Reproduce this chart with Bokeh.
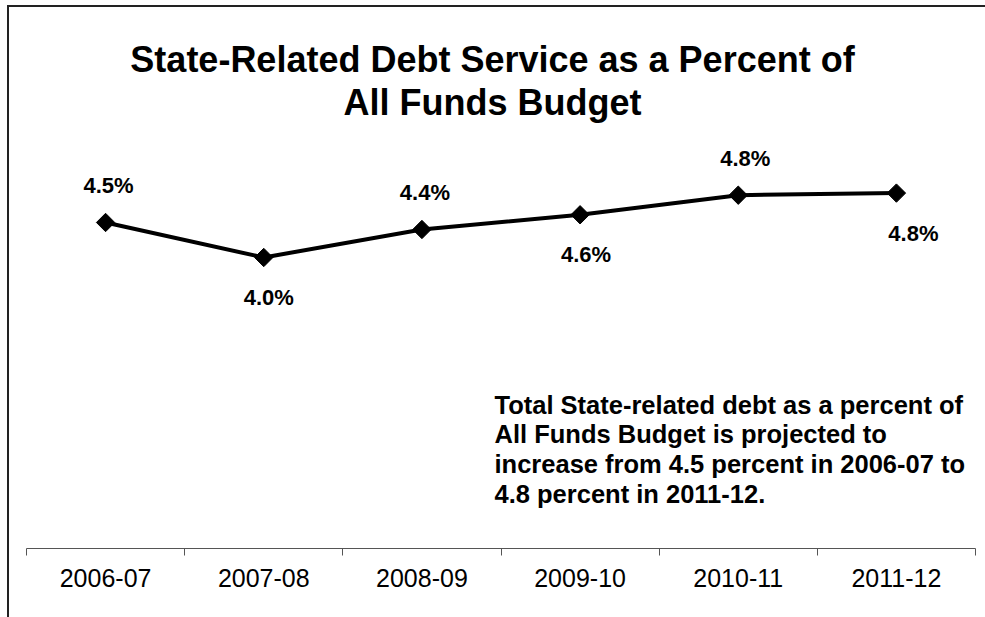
from math import pi
from bokeh.plotting import figure
from bokeh.models import (Range1d, LinearAxis, FixedTicker, CustomJSTickFormatter,
                          Label, InlineStyleSheet)
from bokeh.core.properties import value
from bokeh.embed import file_html
from bokeh.resources import INLINE

# ---- data ----
years = ["2006-07", "2007-08", "2008-09", "2009-10", "2010-11", "2011-12"]
debt_pct = [4.50, 4.00, 4.40, 4.61, 4.89, 4.92]
pct_labels = ["4.5%", "4.0%", "4.4%", "4.6%", "4.8%", "4.8%"]
label_side = ["above", "below", "above", "below", "above", "below"]
title_lines = ["State-Related Debt Service as a Percent of", "All Funds Budget"]
note_lines = [
    "Total State-related debt as a percent of",
    "All Funds Budget is projected to",
    "increase from 4.5 percent in 2006-07 to",
    "4.8 percent in 2011-12.",
]

# ---- layout (pixels) ----
W, H = 985, 617
FL, FR, FT, FB = 26, 975, 0, 548
Y_TOP, Y_BOT = 7.671, -0.157
FONT = "Liberation Sans"


def sx(px):
    return (px - FL) / (FR - FL) * len(years)


def sy(py):
    return Y_TOP - (py - FT) / (FB - FT) * (Y_TOP - Y_BOT)


p = figure(width=W, height=H, output_backend="svg", toolbar_location=None,
           x_range=Range1d(0, len(years)), y_range=Range1d(Y_BOT, Y_TOP),
           x_axis_type=None, y_axis_type=None,
           min_border_left=FL, min_border_right=W - FR,
           min_border_top=FT, min_border_bottom=H - FB)
p.outline_line_color = None
p.background_fill_color = "white"
p.border_fill_color = "white"

# outer chart border: only its left and top edges are inside the picture
p.stylesheets = [InlineStyleSheet(css="""
:host::before {
  content: "";
  position: absolute;
  left: 7px; top: 5px;
  width: 978px; height: 2px;
  background: #222222;
  pointer-events: none;
  z-index: 10;
}
:host::after {
  content: "";
  position: absolute;
  left: 7px; top: 5px;
  width: 2px; height: 612px;
  background: #222222;
  pointer-events: none;
  z-index: 10;
}
""")]

xs = [i + 0.5 for i in range(len(years))]

ax = LinearAxis(
    ticker=FixedTicker(ticks=xs, minor_ticks=list(range(len(years) + 1))),
    formatter=CustomJSTickFormatter(args=dict(labels=years),
                                    code="return labels[Math.floor(tick)];"),
)
ax.axis_line_color = "#555555"
ax.axis_line_width = 1
ax.major_tick_line_color = None
ax.major_tick_out = 7
ax.major_tick_in = 0
ax.minor_tick_line_color = "#555555"
ax.minor_tick_out = 7
ax.minor_tick_in = 0
ax.major_label_text_font = FONT
ax.major_label_text_font_size = "25px"
ax.major_label_text_color = "black"
ax.major_label_standoff = 13
p.add_layout(ax, "below")

p.line(xs, debt_pct, line_width=4, line_color="black")
p.scatter(xs, debt_pct, marker="square", angle=pi / 4, size=13,
          fill_color="black", line_color="black")

label_dx = [3, 5, 3, 6, 7, 17]
dy = [-37 if s == "above" else 40 for s in label_side]
p.text(x=xs, y=debt_pct, text=pct_labels, x_offset=label_dx, y_offset=dy,
       text_align="center", text_baseline="alphabetic",
       text_font=value(FONT), text_font_style="bold", text_font_size="22px",
       text_color="black")

for i, t in enumerate(title_lines):
    p.add_layout(Label(x=sx(492), y=sy(59 + i * 43), text=t, text_align="center",
                       text_baseline="alphabetic", text_font=FONT,
                       text_font_style="bold", text_font_size="36px",
                       text_color="black"))

for i, t in enumerate(note_lines):
    p.add_layout(Label(x=sx(494), y=sy(404 + i * 29.7), text=t, text_align="left",
                       text_baseline="alphabetic", text_font=FONT,
                       text_font_style="bold", text_font_size="25.5px",
                       text_color="black"))

open("out.html", "w").write(file_html(p, INLINE))
